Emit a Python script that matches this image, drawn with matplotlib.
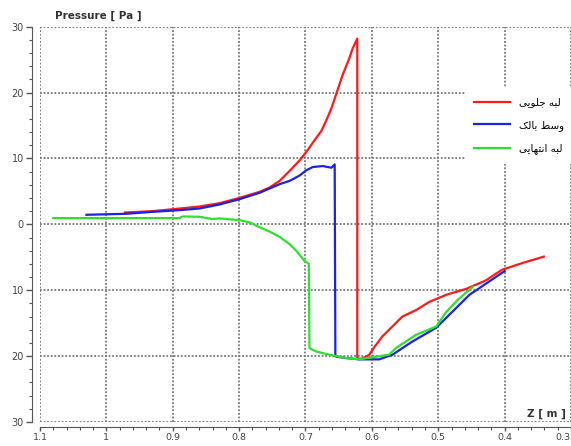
import numpy as np
import matplotlib
matplotlib.use('Agg')
import matplotlib.pyplot as plt
from matplotlib.ticker import MultipleLocator, FuncFormatter

plt.rcParams['font.family'] = ['DejaVu Sans']

# Z [m] and pressure [Pa]
red_z = [0.972, 0.93, 0.89, 0.86, 0.83, 0.80, 0.77, 0.754, 0.739, 0.724, 0.709, 0.698,
         0.689, 0.676, 0.669, 0.661, 0.654, 0.644, 0.634, 0.629, 0.622, 0.622, 0.615,
         0.609, 0.604, 0.596, 0.584, 0.569, 0.554, 0.533, 0.514, 0.488, 0.458, 0.428,
         0.404, 0.374, 0.341]
red_p = [1.8, 2.0, 2.4, 2.7, 3.2, 4.0, 4.9, 5.6, 6.6, 8.1, 9.7, 11.1,
         12.4, 14.2, 15.7, 17.6, 19.7, 22.7, 25.2, 26.7, 28.2, -20.4, -20.4,
         -20.1, -19.8, -18.6, -17.0, -15.5, -14.0, -13.0, -11.8, -10.7, -9.8, -8.5,
         -6.9, -5.9, -4.9]

blue_z = [1.03, 0.97, 0.93, 0.89, 0.86, 0.83, 0.80, 0.769, 0.739, 0.724, 0.709, 0.699,
          0.689, 0.674, 0.661, 0.656, 0.655, 0.653, 0.639, 0.619, 0.589, 0.569, 0.539,
          0.503, 0.479, 0.453, 0.428, 0.40]
blue_p = [1.45, 1.6, 1.9, 2.15, 2.4, 3.0, 3.8, 4.8, 6.1, 6.6, 7.4, 8.2,
          8.7, 8.85, 8.6, 9.1, -20.0, -20.1, -20.3, -20.5, -20.5, -19.8, -17.8,
          -15.7, -13.3, -10.7, -9.0, -7.1]

green_z = [1.08, 0.95, 0.89, 0.885, 0.86, 0.84, 0.83, 0.80, 0.784, 0.769, 0.754, 0.739,
           0.724, 0.714, 0.702, 0.695, 0.694, 0.684, 0.664, 0.639, 0.619, 0.594, 0.574,
           0.564, 0.534, 0.503, 0.488, 0.471, 0.448]
green_p = [0.95, 0.95, 0.95, 1.2, 1.15, 0.8, 0.9, 0.65, 0.3, -0.45, -1.1, -1.9,
           -3.0, -4.0, -5.5, -6.0, -18.8, -19.3, -19.8, -20.3, -20.5, -20.1, -19.8,
           -18.8, -16.8, -15.5, -13.3, -11.5, -9.5]

# legend labels (Persian, written in joined presentation forms, visual order)
label_red = '\uFBFD\uFBFE\uFEEE\uFEE0\uFE9F \uFEEA\uFE92\uFEDF'    # لبه جلویی
label_blue = '\uFB8F\uFEDF\uFE8E\uFE91 \uFEC2\uFEB3\uFEED'          # وسط بالک
label_green = '\uFBFD\uFBFE\uFE8E\uFEEC\uFE98\uFEE7\uFE8D \uFEEA\uFE92\uFEDF'  # لبه انتهایی

fig = plt.figure(figsize=(5.71, 4.46), dpi=100)
ax = fig.add_axes([0.070, 0.054, 0.930, 0.886])

ax.plot(red_z, red_p, color='#ff1a1a', lw=1.6, label=label_red)
ax.plot(blue_z, blue_p, color='#1a22e6', lw=1.6, label=label_blue)
ax.plot(green_z, green_p, color='#2ee02e', lw=1.6, label=label_green)

ax.set_xlim(1.1, 0.3)
ax.set_ylim(-30, 30)
ax.xaxis.set_major_locator(MultipleLocator(0.1))
ax.xaxis.set_minor_locator(MultipleLocator(0.02))
ax.yaxis.set_major_locator(MultipleLocator(10))
ax.yaxis.set_minor_locator(MultipleLocator(2))
ax.xaxis.set_major_formatter(FuncFormatter(lambda v, p: '%g' % round(v, 2)))
ax.yaxis.set_major_formatter(FuncFormatter(lambda v, p: '%g' % abs(v)))

ax.grid(True, which='major', color='#777777', lw=1.3, ls=(0, (1, 1)))
for s in ['top', 'right']:
    ax.spines[s].set_visible(False)
ax.spines['left'].set_position(('outward', 6))
ax.spines['bottom'].set_position(('outward', 4))
ax.spines['left'].set_color('#555555')
ax.spines['bottom'].set_color('#555555')
ax.tick_params(which='major', length=4, width=1, colors='#555555', labelsize=7,
               labelcolor='#444444', pad=1.5)
ax.tick_params(axis='x', which='major', length=3, labelsize=6.8, pad=1)
ax.tick_params(which='minor', length=2.5, width=0.8, colors='#555555')

fig.canvas.draw()
ax.get_xticklabels()[-1].set_horizontalalignment('right')
for lab in ax.get_xticklabels():
    if lab.get_text() == '0.3':
        lab.set_horizontalalignment('right')

fig.text(55 / 571, 1 - 16 / 446, 'Pressure [ Pa ]', fontsize=7.5, fontweight='bold',
         color='#333333', va='center')
fig.text(566 / 571, 1 - 414 / 446, 'Z [ m ]', fontsize=7.5, fontweight='bold',
         color='#333333', va='center', ha='right')

leg = ax.legend(loc='upper right', bbox_to_anchor=(1.015, 0.858), fontsize=7.5,
                frameon=True, fancybox=False, handlelength=3.4, handletextpad=0.9,
                labelspacing=1.2, borderpad=0.9)
leg.get_frame().set_edgecolor('none')
leg.get_frame().set_facecolor('white')
leg.get_frame().set_alpha(1)

fig.savefig('out.png', dpi=100)
